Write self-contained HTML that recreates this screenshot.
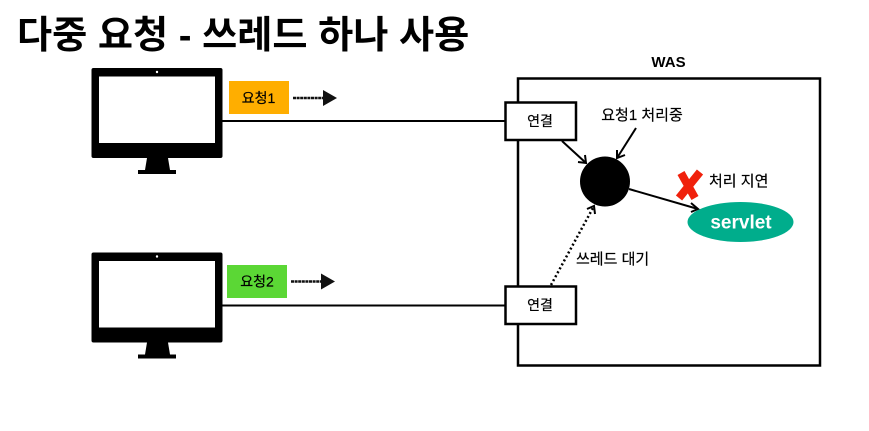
<!DOCTYPE html>
<html><head><meta charset="utf-8"><style>
html,body{margin:0;padding:0;background:#fff;width:869px;height:431px;overflow:hidden}
svg{display:block}
text{font-family:"Liberation Sans","Noto Sans CJK KR",sans-serif;fill:#000}
.l{font-size:15px;stroke:#000;stroke-width:.2px}
.s{font-size:14px;stroke:#000;stroke-width:.2px}
</style></head><body>
<svg width="869" height="431" viewBox="0 0 869 431" xmlns="http://www.w3.org/2000/svg">
<defs>
<g id="mon">
<rect x="91.500" y="68" width="131" height="90" rx="2" fill="#000"/>
<rect x="99" y="76.500" width="116" height="66.500" fill="#fff"/>
<circle cx="157" cy="72" r="1.200" fill="#fff"/>
<path d="M147 158H168L170 170H145Z" fill="#000"/>
<rect x="138" y="170" width="38" height="4" fill="#000"/>
</g>
<g id="smallarrow">
<path d="M0 0H32" stroke="#111" stroke-width="2.500" stroke-dasharray="3 .6"/>
<path d="M30 -8L44 0L30 8Z" fill="#111"/>
</g>
</defs>

<text x="17" y="48" font-size="38.200" font-weight="700">다중 요청 - 쓰레드 하나 사용</text>

<use href="#mon"/>
<use href="#mon" y="184.500"/>

<path d="M222 121H505" stroke="#000" stroke-width="2"/>
<path d="M222 305.500H505" stroke="#000" stroke-width="2"/>

<rect x="229" y="81" width="60" height="33" fill="#FFAE00"/>
<text x="258.500" y="103" class="s" text-anchor="middle">요청1</text>
<rect x="227" y="265" width="60" height="33" fill="#5BD735"/>
<text x="257" y="286.500" class="s" text-anchor="middle">요청2</text>
<use href="#smallarrow" x="293" y="98"/>
<use href="#smallarrow" x="291" y="281.500"/>

<text x="668.500" y="67" font-size="15" font-weight="700" text-anchor="middle">WAS</text>
<rect x="518" y="78.500" width="302" height="287" fill="#fff" stroke="#000" stroke-width="2.500"/>

<rect x="505.500" y="102.500" width="70.500" height="37.500" fill="#fff" stroke="#000" stroke-width="2.500"/>
<text x="540" y="126" class="s" text-anchor="middle">연결</text>
<rect x="505.500" y="286.500" width="70.500" height="37.500" fill="#fff" stroke="#000" stroke-width="2.500"/>
<text x="540" y="310" class="s" text-anchor="middle">연결</text>

<circle cx="605" cy="181.500" r="25" fill="#000"/>
<ellipse cx="740.500" cy="222" rx="53" ry="20" fill="#00AD8C"/>
<text x="741" y="228.500" font-size="19" font-weight="700" text-anchor="middle" style="fill:#fff">servlet</text>

<g fill="none" stroke="#000" stroke-width="2">
<path d="M562 141L586 163"/><path d="M578 162L586 163L585 155"/>
<path d="M636 128L617 158"/><path d="M617 150L617 158L625 155"/>
<path d="M629 189L698 209"/><path d="M691 203L698 209L691 212"/>
<path d="M551 285L594 206" stroke-dasharray="2 2.500" stroke-width="2.500"/><path d="M587 209L594 206L595 214"/>
</g>

<text x="642" y="120" class="l" text-anchor="middle">요청1 처리중</text>
<text x="709" y="186" class="l">처리 지연</text>
<text x="576" y="264" class="l">쓰레드 대기</text>

<path d="M681 173L695 198M700 172L679 198" fill="none" stroke="#F0210C" stroke-width="8"/>
</svg>
</body></html>
